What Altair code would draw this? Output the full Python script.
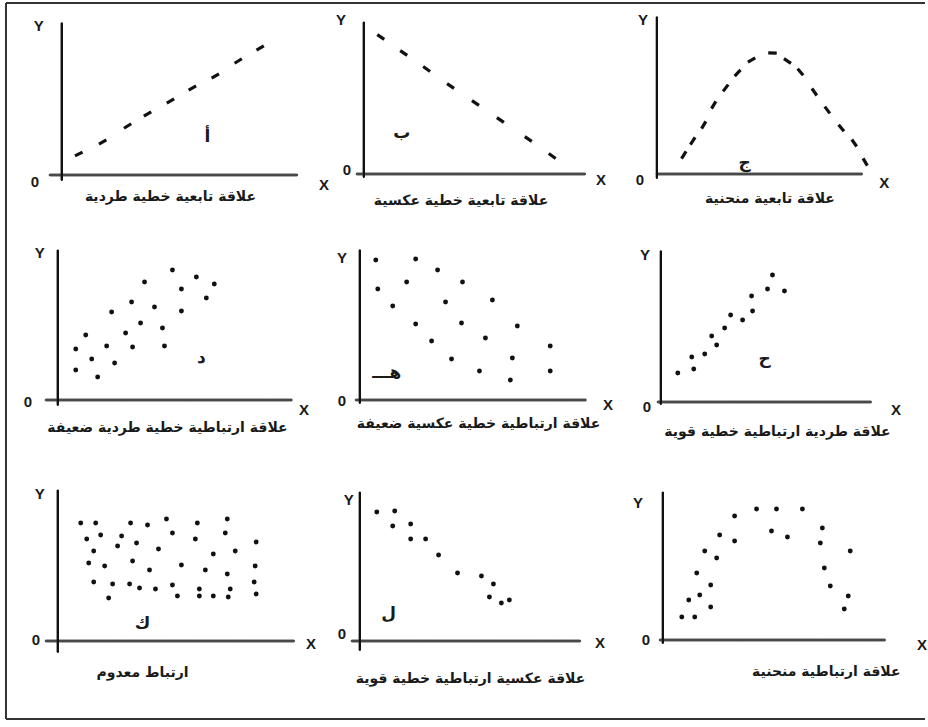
import altair as alt
import numpy as np
import pandas as pd

# ---------------------------------------------------------------------------
# Series for the nine small diagrams (units: 1 = ten pixels of the figure)
# ---------------------------------------------------------------------------
# أ  linear functional, direct (dashed)
a_x = [1.7, 4.1, 6.6, 8.6, 10.9, 13.1, 15.4, 17.7, 19.9]
a_y = [2.1, 3.3, 4.9, 6.1, 7.4, 8.7, 9.9, 11.4, 12.7]

# ب  linear functional, inverse (dashed)
b_x = [1.7, 4.0, 6.3, 8.7, 11.2, 13.7, 16.5, 18.9]
b_y = [13.7, 12.1, 10.5, 8.8, 7.1, 5.4, 3.5, 1.8]

# ج  curvilinear functional (dashed)
c_x = [2.7, 3.6, 4.7, 5.7, 6.9, 8.1, 9.5, 11.6, 13.1, 14.4, 15.8, 17.1, 18.5, 19.8, 20.9]
c_y = [1.9, 3.3, 4.9, 6.9, 8.6, 10.1, 11.4, 12.1, 11.3, 10.2, 8.2, 6.4, 4.6, 3.1, 1.2]

# د  weak direct correlation
d_x = [1.8, 1.8, 2.8, 3.4, 4.0, 4.9, 5.4, 5.7, 6.8, 7.4, 7.5, 8.3, 8.7, 9.7, 10.5,
       10.7, 11.5, 12.4, 12.4, 13.9, 14.9, 15.7]
d_y = [5.1, 3.0, 6.5, 4.1, 2.3, 5.4, 8.8, 3.7, 6.7, 9.8, 5.3, 7.7, 11.8, 9.3, 7.2,
       5.4, 13.0, 11.1, 8.9, 12.3, 10.2, 11.6]

# هـ weak inverse correlation
e_x = [1.6, 1.8, 3.3, 4.7, 5.6, 5.6, 7.2, 7.8, 8.6, 9.2, 10.2, 10.3, 12.0, 12.6,
       13.3, 15.3, 15.1, 15.8, 19.1, 19.1]
e_y = [14.0, 11.1, 9.4, 11.8, 14.1, 7.6, 5.9, 13.0, 9.8, 4.1, 7.7, 11.8, 2.9, 6.2,
       10.0, 4.2, 2.0, 7.4, 5.4, 2.9]

# ح  strong direct correlation
f_x = [1.7, 3.1, 3.3, 4.4, 5.1, 5.6, 6.4, 7.0, 8.2, 9.1, 9.2, 10.7, 11.2, 12.4]
f_y = [2.9, 4.5, 3.3, 4.8, 6.6, 5.7, 7.4, 8.7, 8.2, 10.6, 9.1, 11.3, 12.7, 11.1]

# ك  no correlation
g_x = [2.3, 3.8, 7.3, 9.0, 10.9, 14.0, 17.0,
       2.9, 4.3, 6.4, 11.5, 13.8, 16.8, 19.9,
       3.6, 6.0, 7.9, 10.1, 15.6, 17.8,
       3.1, 4.7, 7.5, 9.2, 12.4, 14.8, 17.0, 19.8,
       3.6, 5.5, 7.2, 8.2, 9.8, 11.5, 14.2, 17.3, 19.7,
       5.1, 12.0, 14.2, 15.6, 17.1, 19.9]
g_y = [11.8, 11.8, 11.8, 11.6, 12.2, 11.8, 12.2,
       10.2, 10.6, 10.5, 10.8, 10.2, 10.8, 9.9,
       9.0, 9.5, 9.8, 9.2, 8.7, 9.0,
       7.8, 7.5, 8.0, 7.1, 7.6, 7.1, 6.7, 7.5,
       5.9, 5.7, 5.7, 5.3, 5.2, 5.6, 5.2, 5.2, 5.9,
       4.3, 4.5, 4.5, 4.5, 4.4, 4.7]

# ل  strong inverse correlation
h_x = [1.7, 3.5, 3.3, 5.1, 5.1, 6.6, 7.9, 9.8, 12.2, 13.4, 13.0, 14.2, 15.0]
h_y = [12.9, 13.0, 11.5, 11.7, 10.2, 10.2, 8.6, 6.8, 6.5, 5.7, 4.4, 3.8, 4.1]

# curvilinear correlation
i_x = [1.9, 3.2, 2.6, 3.7, 3.4, 4.8, 4.8, 4.2, 5.4, 5.7, 7.2, 7.2, 9.4, 11.4, 10.9,
       12.5, 14.0, 16.0, 15.8, 16.2, 16.8, 18.2, 18.6, 18.8]
i_y = [2.3, 2.3, 4.0, 4.5, 6.7, 3.3, 5.5, 8.9, 8.2, 10.5, 9.9, 12.4, 13.1, 13.1, 10.9,
       10.3, 13.1, 11.2, 9.7, 7.2, 5.4, 3.1, 4.4, 8.9]

captions = [
    "علاقة تابعية خطية طردية",
    "علاقة تابعية خطية عكسية",
    "علاقة تابعية منحنية",
    "علاقة ارتباطية خطية طردية ضعيفة",
    "علاقة ارتباطية خطية عكسية ضعيفة",
    "علاقة طردية ارتباطية خطية قوية",
    "ارتباط معدوم",
    "علاقة عكسية ارتباطية خطية قوية",
    "علاقة ارتباطية منحنية",
]
letters = ["أ", "ب", "ج", "د", "هـــ", "ح", "ك", "ل", ""]

series = [(a_x, a_y, "dash"), (b_x, b_y, "dash"), (c_x, c_y, "dash"),
          (d_x, d_y, "dot"), (e_x, e_y, "dot"), (f_x, f_y, "dot"),
          (g_x, g_y, "dot"), (h_x, h_y, "dot"), (i_x, i_y, "dot")]

# ---------------------------------------------------------------------------
# Layout
# ---------------------------------------------------------------------------
W, H = 928, 727                       # whole figure, px
# origin (where the two axes meet) of each diagram, px from the top-left corner
ORIGINS = [(62, 175), (365, 174), (659, 174),
           (58, 400), (361, 400), (663, 402),
           (58, 641), (361, 641), (665, 640)]

# axis extents and text anchors, relative to each diagram's origin
GEOM = [
    dict(yaxis=(-0.5, 15.2), xaxis=(-1.2, 23.6), Y=(-2.3, 14.9), O=(-2.7, -0.7), X=(26.3, -1.0), L=(14.6, 3.8), C=(10.9, -2.2)),
    dict(yaxis=(-0.3, 15.2), xaxis=(-0.7, 22.2), Y=(-2.3, 15.4), O=(-1.7, 0.4), X=(23.8, -0.6), L=(3.8, 4.1), C=(9.75, -2.7)),
    dict(yaxis=(-0.4, 15.7), xaxis=(0.0, 20.6), Y=(-1.4, 15.4), O=(-1.7, -0.6), X=(22.8, -0.9), L=(8.8, 1.1), C=(11.35, -2.5)),
    dict(yaxis=(-0.5, 15.0), xaxis=(-1.2, 23.5), Y=(-1.8, 14.7), O=(-3.0, -0.2), X=(24.7, -1.0), L=(14.4, 4.2), C=(11.0, -2.8)),
    dict(yaxis=(-0.3, 15.0), xaxis=(-0.4, 22.7), Y=(-1.8, 14.2), O=(-1.8, -0.1), X=(24.9, -0.5), L=(2.7, 2.7), C=(11.9, -2.4)),
    dict(yaxis=(-0.2, 15.1), xaxis=(-0.3, 21.1), Y=(-1.6, 14.7), O=(-1.4, -0.5), X=(23.6, -0.8), L=(10.4, 4.3), C=(11.7, -3.0)),
    dict(yaxis=(-1.1, 15.1), xaxis=(-1.2, 23.7), Y=(-1.8, 14.7), O=(-2.2, 0.1), X=(25.4, -0.3), L=(8.5, 1.7), C=(8.5, -3.2)),
    dict(yaxis=(-0.9, 14.9), xaxis=(-0.8, 22.1), Y=(-1.1, 14.1), O=(-1.8, 0.7), X=(24.1, -0.2), L=(2.9, 2.7), C=(11.1, -3.8)),
    dict(yaxis=(-0.3, 14.8), xaxis=(-0.3, 22.3), Y=(-2.5, 13.7), O=(-1.7, 0.0), X=(26.0, -0.5), L=(0, 0), C=(16.4, -3.2)),
]

FRAME_LEFT, FRAME_TOP, FRAME_BOTTOM = 6, 3, 719   # px
BEAD_STEP = 0.08                                  # spacing of axis beads, units
INK = "#111111"
X_AXIS_INK = "#4a4a4a"
FRAME_INK = "#333333"
LATIN = "Liberation Sans"
ARABIC = "DejaVu Sans"
DASH = "M-1,0L1,0"


def origin_units(k):
    ox, oy = ORIGINS[k]
    return ox / 10, (H - oy) / 10


def dash_angles(xs, ys):
    """Rotate each dash along the local direction of its series."""
    gx = np.gradient(np.asarray(xs, dtype=float))
    gy = np.gradient(np.asarray(ys, dtype=float))
    return (-np.degrees(np.arctan2(gy, gx))) % 360


# ---------------------------------------------------------------------------
# Tables built from the series above
# ---------------------------------------------------------------------------
obs, segs, beads, labels, marks, caps = [], [], [], [], [], []
for k, (xs, ys, style) in enumerate(series):
    OX, OY = origin_units(k)
    g = GEOM[k]
    df = pd.DataFrame({"panel": k, "x": xs, "y": ys, "style": style})
    df["angle"] = dash_angles(xs, ys) if style == "dash" else 0.0
    df["gx"] = OX + df["x"]
    df["gy"] = OY + df["y"]
    obs.append(df)

    x0, x1 = OX + g["xaxis"][0], OX + g["xaxis"][1]
    y0, y1 = OY + g["yaxis"][0], OY + g["yaxis"][1]

    # the two axes as plain segments
    segs.append(dict(gx=x0, gx2=x1, gy=OY, gy2=OY, col=X_AXIS_INK, sw=2.6))
    segs.append(dict(gx=OX, gx2=OX, gy=y0, gy2=y1, col=INK, sw=2.2))

    # the same axes traced by tightly packed beads, so the strokes stay solid
    bx = np.arange(x0, x1 + 1e-9, BEAD_STEP)
    beads.append(pd.DataFrame({"gx": bx, "gy": OY, "col": X_AXIS_INK, "sz": 5.5}))
    by = np.arange(y0, y1 + 1e-9, BEAD_STEP)
    beads.append(pd.DataFrame({"gx": OX, "gy": by, "col": INK, "sz": 4.2}))

    for key, txt in (("Y", "Y"), ("O", "0"), ("X", "X")):
        labels.append(dict(panel=k, t=txt, gx=OX + g[key][0], gy=OY + g[key][1]))
    if letters[k]:
        marks.append(dict(panel=k, t=letters[k], gx=OX + g["L"][0], gy=OY + g["L"][1]))
    caps.append(dict(panel=k, t=captions[k], gx=OX + g["C"][0], gy=OY + g["C"][1]))

# outer frame: left, top and bottom edges
fl, ft, fb = FRAME_LEFT / 10, (H - FRAME_TOP) / 10, (H - FRAME_BOTTOM) / 10
segs += [
    dict(gx=fl, gx2=W / 10, gy=ft, gy2=ft, col=FRAME_INK, sw=2.0),
    dict(gx=fl, gx2=W / 10, gy=fb, gy2=fb, col=FRAME_INK, sw=2.0),
    dict(gx=fl, gx2=fl, gy=fb, gy2=ft, col=FRAME_INK, sw=2.0),
]

obs = pd.concat(obs, ignore_index=True)
segs = pd.DataFrame(segs).round(3)
beads = pd.concat(beads, ignore_index=True).round(3)
labels, marks, caps = pd.DataFrame(labels), pd.DataFrame(marks), pd.DataFrame(caps)

# ---------------------------------------------------------------------------
# Chart: one coordinate plane holding all nine diagrams
# ---------------------------------------------------------------------------
xs_ = alt.Scale(domain=[0, W / 10], nice=False, zero=False)
ys_ = alt.Scale(domain=[0, H / 10], nice=False, zero=False)
X = alt.X("gx:Q", scale=xs_, axis=None)
Y = alt.Y("gy:Q", scale=ys_, axis=None)

dash_layer = alt.Chart(obs).transform_filter(alt.datum.style == "dash").mark_point(
    shape=DASH, filled=False, size=72, strokeWidth=3.2, color=INK, opacity=1
).encode(x=X, y=Y, angle=alt.Angle("angle:Q", scale=None))

dot_layer = alt.Chart(obs).transform_filter(alt.datum.style == "dot").mark_point(
    shape="circle", filled=True, size=24, color=INK, opacity=1
).encode(x=X, y=Y)

label_layer = alt.Chart(labels).mark_text(
    font=LATIN, fontSize=15, fontWeight="bold", color="#1a1a1a",
    align="center", baseline="middle").encode(x=X, y=Y, text="t:N")

letter_layer = alt.Chart(marks).mark_text(
    font=ARABIC, fontSize=17, fontWeight="bold", color="#1a1a1a",
    align="center", baseline="middle").encode(x=X, y=Y, text="t:N")

caption_layer = alt.Chart(caps).mark_text(
    font=ARABIC, fontSize=14, fontWeight="bold", color="#1a1a1a",
    align="center", baseline="middle").encode(x=X, y=Y, text="t:N")

seg_layer = alt.Chart(segs).mark_rule().encode(
    x=X, x2="gx2:Q", y=Y, y2="gy2:Q",
    color=alt.Color("col:N", scale=None),
    strokeWidth=alt.StrokeWidth("sw:Q", scale=None),
)

bead_layer = alt.Chart(beads).mark_point(shape="circle", filled=True, opacity=1).encode(
    x=X, y=Y,
    color=alt.Color("col:N", scale=None),
    size=alt.Size("sz:Q", scale=None),
)

chart = alt.layer(
    dash_layer, dot_layer, label_layer, letter_layer, caption_layer,
    seg_layer, bead_layer,
).properties(
    width=W, height=H, padding=0, background="white",
    autosize=alt.AutoSizeParams(type="fit", contains="padding"),
).configure_view(stroke=None)

chart.save("out.html", embed_options={"renderer": "svg", "actions": False})
